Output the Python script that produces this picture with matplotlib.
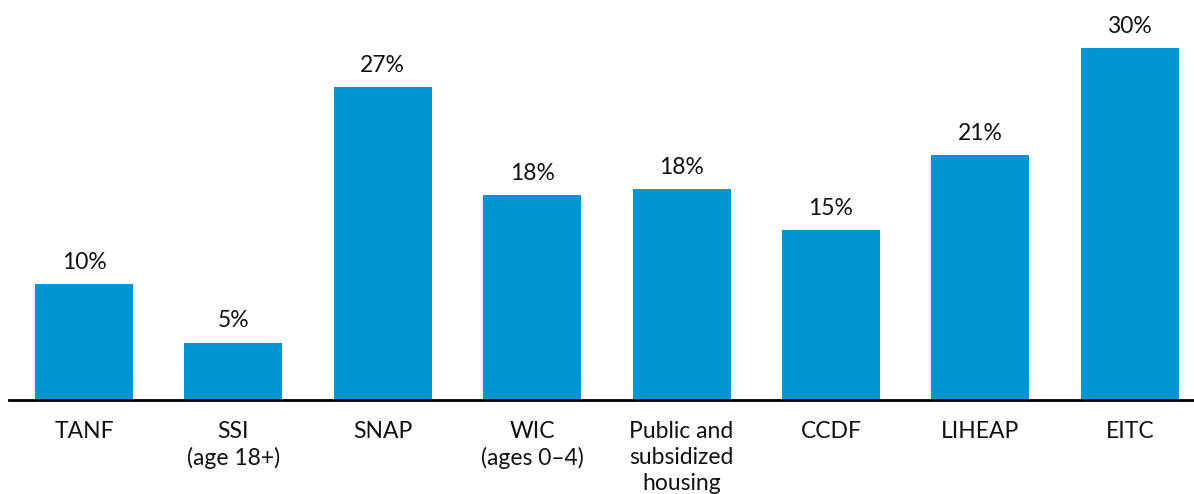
import matplotlib.pyplot as plt
import numpy as np

plt.rcParams['font.family'] = ['Lato', 'DejaVu Sans']

programs = ['TANF', 'SSI\n(age 18+)', 'SNAP', 'WIC\n(ages 0\u20134)',
            'Public and\nsubsidized\nhousing', 'CCDF', 'LIHEAP', 'EITC']
shares = [9.9, 4.9, 26.7, 17.5, 18.0, 14.5, 20.9, 30.0]
share_labels = ['10%', '5%', '27%', '18%', '18%', '15%', '21%', '30%']

fig = plt.figure(figsize=(11.94, 4.94), dpi=100)
ax = fig.add_axes([9 / 1194, 94 / 494, 1185 / 1194, 352 / 494])

x = np.arange(len(programs))
bars = ax.bar(x, shares, width=0.656, color='#0096d2', zorder=2)

for b, lab in zip(bars, share_labels):
    ax.annotate(lab, (b.get_x() + b.get_width() / 2, b.get_height()),
                xytext=(0, 8), textcoords='offset points',
                ha='center', va='bottom', fontsize=16.5, color='#111111')

ax.set_xlim(-0.502, 7.43)
ax.set_ylim(0, 30)
ax.set_xticks(x)
ax.set_xticklabels(programs, fontsize=16.5, color='#111111', linespacing=1.3)
ax.tick_params(axis='x', length=0, pad=15)
ax.set_yticks([])

for s in ['top', 'right', 'left']:
    ax.spines[s].set_visible(False)
ax.spines['bottom'].set_linewidth(2)
ax.spines['bottom'].set_color('#000000')
ax.spines['bottom'].set_zorder(3)

fig.savefig('out.png', dpi=100)
